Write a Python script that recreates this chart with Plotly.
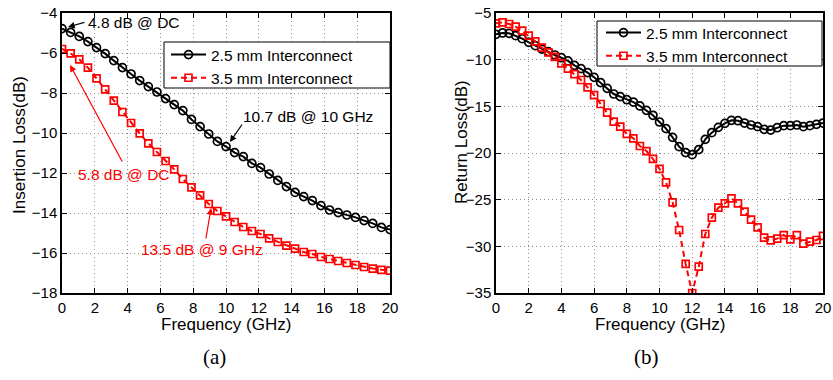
import plotly.graph_objects as go

# ---------------- data ----------------
freq_a = [0, 0.526, 1.053, 1.579, 2.105, 2.632, 3.158, 3.684, 4.211, 4.737,
          5.263, 5.789, 6.316, 6.842, 7.368, 7.895, 8.421, 8.947, 9.474, 10.0,
          10.526, 11.053, 11.579, 12.105, 12.632, 13.158, 13.684, 14.211, 14.737,
          15.263, 15.789, 16.316, 16.842, 17.368, 17.895, 18.421, 18.947, 19.474, 20.0]
il_25 = [-4.78, -4.97, -5.17, -5.43, -5.73, -6.03, -6.38, -6.73, -7.05, -7.38,
         -7.68, -7.95, -8.28, -8.58, -8.88, -9.32, -9.68, -10.05, -10.42, -10.68,
         -10.98, -11.18, -11.52, -11.73, -12.05, -12.37, -12.68, -12.97, -13.18,
         -13.38, -13.63, -13.85, -13.98, -14.10, -14.22, -14.38, -14.52, -14.72, -14.83]
il_35 = [-5.80, -6.02, -6.32, -6.73, -7.27, -7.82, -8.38, -8.95, -9.50, -10.02,
         -10.52, -10.95, -11.40, -11.82, -12.30, -12.72, -13.12, -13.55, -13.90, -14.17,
         -14.45, -14.70, -14.90, -15.05, -15.27, -15.45, -15.63, -15.78, -15.95,
         -16.05, -16.20, -16.30, -16.40, -16.50, -16.60, -16.70, -16.78, -16.84, -16.88]

freq_b = [0, 0.4, 0.8, 1.2, 1.6, 2.0, 2.4, 2.8, 3.2, 3.6, 4.0, 4.4, 4.8, 5.2, 5.6,
          6.0, 6.4, 6.8, 7.2, 7.6, 8.0, 8.4, 8.8, 9.2, 9.6, 10.0, 10.4, 10.8, 11.2,
          11.6, 12.0, 12.4, 12.8, 13.2, 13.6, 14.0, 14.4, 14.8, 15.2, 15.6, 16.0,
          16.4, 16.8, 17.2, 17.6, 18.0, 18.4, 18.8, 19.2, 19.6, 20.0]
rl_25 = [-7.29, -7.14, -7.18, -7.43, -7.75, -8.14, -8.50, -8.86, -9.14, -9.50,
         -9.79, -10.14, -10.61, -10.96, -11.39, -11.89, -12.46, -13.07, -13.68, -13.96,
         -14.29, -14.54, -14.96, -15.43, -15.96, -16.68, -17.39, -18.32, -19.32, -19.96,
         -20.18, -19.64, -18.54, -17.82, -17.25, -16.82, -16.50, -16.54, -16.79, -17.00,
         -17.18, -17.46, -17.54, -17.29, -17.07, -17.07, -17.00, -17.18, -17.07, -16.93, -16.79]
rl_35 = [-6.11, -6.00, -6.18, -6.46, -6.89, -7.43, -8.04, -8.71, -9.21, -9.71,
         -10.39, -10.96, -11.54, -12.18, -12.96, -13.79, -14.75, -15.68, -16.64, -17.18,
         -17.96, -18.43, -19.25, -19.79, -20.64, -21.71, -23.15, -25.29, -28.25, -31.89,
         -35.00, -32.18, -28.68, -26.93, -25.86, -25.39, -24.86, -25.39, -26.29, -27.14,
         -27.96, -29.07, -29.36, -29.18, -28.79, -29.25, -28.79, -29.71, -29.50, -29.32, -28.89]

series_names = ["2.5 mm Interconnect", "3.5 mm Interconnect"]
x_ticks = [0, 2, 4, 6, 8, 10, 12, 14, 16, 18, 20]
y_ticks_a = [-18, -16, -14, -12, -10, -8, -6, -4]
y_ticks_b = [-35, -30, -25, -20, -15, -10, -5]

# ---------------- styling ----------------
FONT = "Liberation Sans, Arial, Helvetica, sans-serif"
SERIF = "Liberation Serif, Times New Roman, serif"
W, H = 833, 380
RED = "#ff0000"

black_line = dict(color="black", width=2)
red_line = dict(color=RED, width=2, dash="6px,4px")
black_marker = dict(symbol="circle-open", size=8, color="black", line=dict(width=1.7, color="black"))
red_marker = dict(symbol="square-open", size=7, color=RED, line=dict(width=1.7, color=RED))

fig = go.Figure()
fig.add_trace(go.Scatter(x=freq_a, y=il_25, mode="lines+markers", name=series_names[0],
                         line=black_line, marker=black_marker, xaxis="x", yaxis="y", legend="legend"))
fig.add_trace(go.Scatter(x=freq_a, y=il_35, mode="lines+markers", name=series_names[1],
                         line=red_line, marker=red_marker, xaxis="x", yaxis="y", legend="legend"))
fig.add_trace(go.Scatter(x=freq_b, y=rl_25, mode="lines+markers", name=series_names[0],
                         line=black_line, marker=black_marker, xaxis="x2", yaxis="y2", legend="legend2"))
fig.add_trace(go.Scatter(x=freq_b, y=rl_35, mode="lines+markers", name=series_names[1],
                         line=red_line, marker=red_marker, xaxis="x2", yaxis="y2", legend="legend2"))

ax_common = dict(showline=True, linecolor="black", linewidth=1.5, mirror="ticks",
                 ticks="inside", ticklen=5, tickwidth=1, tickcolor="black",
                 showgrid=True, gridcolor="#8a8a8a", gridwidth=1, griddash="1px,3px",
                 zeroline=False, automargin=False,
                 tickfont=dict(family=FONT, size=15, color="black"))

dom_a = [62 / W, 390 / W]
dom_b = [496 / W, 823 / W]
dom_y = [1 - 293 / H, 1 - 13 / H]

legend_font = dict(family=FONT, size=15.5, color="black")
fig.update_layout(
    template="none",
    autosize=False,
    width=W, height=H, margin=dict(l=0, r=0, t=0, b=0, pad=0, autoexpand=False),
    paper_bgcolor="white", plot_bgcolor="white",
    xaxis=dict(domain=dom_a, range=[0, 20], tickvals=x_ticks, anchor="y", **ax_common),
    yaxis=dict(domain=dom_y, range=[-18, -4], tickvals=y_ticks_a, anchor="x", **ax_common),
    xaxis2=dict(domain=dom_b, range=[0, 20], tickvals=x_ticks, anchor="y2", **ax_common),
    yaxis2=dict(domain=dom_y, range=[-35, -5], tickvals=y_ticks_b, anchor="x2", **ax_common),
    legend=dict(x=166 / W, y=1 - 38 / H, xanchor="left", yanchor="top",
                bgcolor="rgba(0,0,0,0)", borderwidth=0, itemwidth=35,
                font=legend_font, tracegroupgap=0),
    legend2=dict(x=601 / W, y=1 - 16 / H, xanchor="left", yanchor="top",
                 bgcolor="rgba(0,0,0,0)", borderwidth=0, itemwidth=35,
                 font=legend_font, tracegroupgap=0),
    showlegend=True,
)

# opaque legend boxes (drawn above the data, below the legend text)
fig.add_shape(type="rect", xref="paper", yref="paper", layer="above",
              x0=164 / W, x1=390 / W, y0=1 - 88 / H, y1=1 - 42 / H,
              fillcolor="white", line=dict(color="black", width=1))
fig.add_shape(type="rect", xref="paper", yref="paper", layer="above",
              x0=597 / W, x1=822 / W, y0=1 - 66 / H, y1=1 - 21 / H,
              fillcolor="white", line=dict(color="black", width=1))

ann = []
def paper_text(txt, px, py, font, angle=0):
    ann.append(dict(text=txt, x=px / W, y=1 - py / H, xref="paper", yref="paper",
                    xanchor="center", yanchor="middle", showarrow=False,
                    textangle=angle, font=font))

title_font = dict(family=FONT, size=17, color="black")
paper_text("Frequency (GHz)", 226, 324, title_font)
paper_text("Frequency (GHz)", 659.5, 324, title_font)
paper_text("Insertion Loss(dB)", 19, 145, title_font, -90)
paper_text("Return Loss(dB)", 461, 142, title_font, -90)
cap_font = dict(family=SERIF, size=21, color="black")
paper_text("(a)", 214, 357, cap_font)
paper_text("(b)", 646, 357, cap_font)

# data callouts (left panel)
callouts = [
    ("4.8 dB @ DC", "black", 4.39, -4.45, 1.46, -4.45, 0.37, -4.70),
    ("10.7 dB @ 10 GHz", "black", 14.97, -9.15, 11.04, -9.50, 10.24, -10.45),
    ("5.8 dB @ DC", RED, 3.75, -12.05, 3.72, -11.50, 0.49, -6.60),
    ("13.5 dB @ 9 GHz", RED, 8.54, -15.80, 8.76, -15.35, 9.09, -13.75),
]
for txt, col, tx, ty, x0, y0, x1, y1 in callouts:
    ann.append(dict(text=txt, x=tx, y=ty, xref="x", yref="y", showarrow=False,
                    xanchor="center", yanchor="middle",
                    font=dict(family=FONT, size=15.5, color=col)))
    ann.append(dict(text="", x=x1, y=y1, ax=x0, ay=y0, xref="x", yref="y", axref="x", ayref="y",
                    showarrow=True, arrowhead=2, arrowsize=1.1, arrowwidth=1.2, arrowcolor=col,
                    standoff=0))

fig.update_layout(annotations=ann)
fig.write_html("out.html")
